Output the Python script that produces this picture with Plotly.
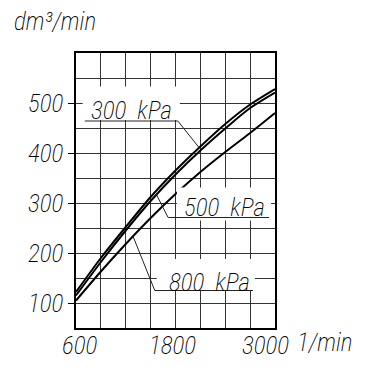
import numpy as np
import plotly.graph_objects as go

# Air delivery vs. speed at three discharge pressures
rpm = [600, 900, 1200, 1500, 1800, 2100, 2400, 2700, 3000]
q_300kpa = [122, 190, 252, 312, 365, 413, 458, 497, 528]
q_500kpa = [115, 182, 245, 304, 357, 405, 449, 490, 521]
q_800kpa = [105, 163, 218, 270, 318, 362, 402, 440, 480]

x_ticks = [600, 1800, 3000]
x_tick_shift = [4, -3, -10]
y_ticks = [100, 200, 300, 400, 500]

NB = "\u00a0"
font = dict(family="Roboto Condensed", size=25, color="black", style="italic", weight=200)

# plot area in pixels
L, R, T, B = 76, 101, 53, 42
W, H = 376, 370
PW, PH = W - L - R, H - T - B

fig = go.Figure()
for q in (q_300kpa, q_500kpa, q_800kpa):
    fig.add_trace(go.Scatter(x=rpm, y=q, mode="lines",
                             line=dict(color="black", width=2, shape="spline", smoothing=0.8),
                             showlegend=False, hoverinfo="skip"))

shapes = []
annotations = []


def label(text, box, text_xy, under, target_x, series):
    """White box behind a label, underline and a leader line to its curve."""
    x0, x1, y0, y1 = box
    shapes.append(dict(type="rect", xref="x", yref="y", x0=x0, x1=x1, y0=y0, y1=y1,
                       fillcolor="white", line=dict(width=0), layer="above"))
    far_x, near_x, uy = under
    ty = float(np.interp(target_x, rpm, series))
    shapes.append(dict(type="path", xref="x", yref="y",
                       path=f"M {far_x},{uy} L {near_x},{uy} L {target_x},{ty}",
                       line=dict(color="#222", width=1), layer="above"))
    annotations.append(dict(x=text_xy[0], y=text_xy[1], xref="x", yref="y", text=text,
                            showarrow=False, font=font, xanchor="center", yanchor="middle",
                            yshift=-4))


label(f"300{NB}{NB}kPa", (681, 1852, 466, 533), (1275, 494), (706, 1828, 464), 2085, q_300kpa)
label(f"500{NB}{NB}kPa", (1817, 2953, 265, 331), (2385, 300), (2927, 1711, 271), 1571, q_500kpa)
label(f"800{NB}{NB}kPa", (1574, 2758, 124, 188), (2205, 150), (2734, 1550, 125), 1288, q_800kpa)

# x tick labels, each nudged as lettered on the sheet
for v, dx in zip(x_ticks, x_tick_shift):
    annotations.append(dict(x=v, y=0, xref="x", yref="paper", text=str(v), showarrow=False,
                            font=font, xanchor="center", yanchor="top", yshift=-1, xshift=dx))

# unit captions
annotations.append(dict(xref="paper", yref="paper", x=(12 - L) / PW, y=(H - B - 22) / PH,
                        text="dm³/min", showarrow=False, font=font, xanchor="left", yanchor="middle"))
annotations.append(dict(xref="paper", yref="paper", x=(295 - L) / PW, y=-(342 - (H - B)) / PH,
                        text="1/min", showarrow=False, font=font, xanchor="left", yanchor="middle"))

grid = "#333"
fig.update_layout(
    width=W, height=H,
    margin=dict(l=L, r=R, t=T, b=B),
    paper_bgcolor="white", plot_bgcolor="white",
    shapes=shapes, annotations=annotations,
    xaxis=dict(range=[600, 3000], tickvals=x_ticks, showticklabels=False,
               showgrid=True, gridcolor=grid, gridwidth=1,
               minor=dict(dtick=300, tick0=600, showgrid=True, gridcolor=grid, gridwidth=1),
               showline=True, mirror=True, linecolor="black", linewidth=1.5,
               ticks="", zeroline=False),
    yaxis=dict(range=[50, 600], tickvals=y_ticks, ticktext=[str(v) for v in y_ticks],
               showgrid=True, gridcolor=grid, gridwidth=1,
               minor=dict(dtick=50, tick0=50, showgrid=True, gridcolor=grid, gridwidth=1),
               showline=True, mirror=True, linecolor="black", linewidth=1.5,
               ticks="outside", ticklen=6, tickcolor="black", tickfont=font, zeroline=False),
)

fig.write_html("out.html")
